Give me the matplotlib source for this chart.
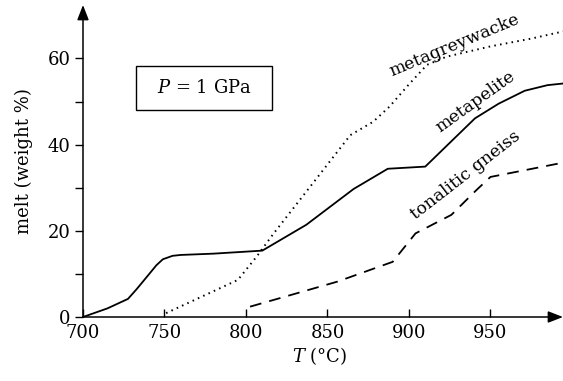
import matplotlib
matplotlib.use('Agg')
import matplotlib.pyplot as plt
from matplotlib.patches import Rectangle

plt.rcParams['font.family'] = ['DejaVu Serif']
plt.rcParams['mathtext.fontset'] = 'dejavuserif'

# melt fraction curves (T in degC, melt in weight %)
pelite_t = [700, 715, 727.6, 733, 740, 745, 749, 755, 760, 780, 810, 837, 866, 887, 910, 940.5, 955, 971, 985, 995]
pelite_m = [0, 2.0, 4.2, 6.5, 9.7, 12.0, 13.4, 14.2, 14.4, 14.7, 15.4, 21.4, 29.7, 34.4, 34.9, 46.1, 49.5, 52.5, 53.8, 54.2]

greywacke_t = [751, 795, 806.5, 817, 843, 864, 878, 888, 900, 911, 923, 950, 975, 995]
greywacke_m = [0.9, 8.6, 14.0, 19.4, 32.0, 42.2, 45.3, 48.8, 54.0, 58.5, 60.4, 62.8, 64.6, 66.3]

gneiss_t = [802.5, 821, 856, 890, 904, 926, 941.5, 950, 993]
gneiss_m = [2.4, 4.4, 8.2, 12.8, 19.4, 23.7, 29.5, 32.5, 35.7]

xticks = [700, 750, 800, 850, 900, 950]
yticks = [0, 20, 40, 60]
yminor = [10, 30, 50]

fs = 13

fig = plt.figure(figsize=(5.63, 3.81), dpi=100)
ax = fig.add_axes([83 / 563, 64 / 381, 480 / 563, 312 / 381])
ax.set_xlim(700, 994.5)
ax.set_ylim(0, 72.4)

ax.plot(pelite_t, pelite_m, color='black', lw=1.3, clip_on=False)
ax.plot(greywacke_t, greywacke_m, color='black', lw=1.4, linestyle=(0, (0.8, 2.2)), clip_on=False)
ax.plot(gneiss_t, gneiss_m, color='black', lw=1.3, linestyle=(0, (6.5, 4.5)), clip_on=False)

for s in ['top', 'right', 'left', 'bottom']:
    ax.spines[s].set_visible(False)

# axes with arrowheads
arrow = dict(arrowstyle='-|>,head_length=0.9,head_width=0.35', color='black', lw=1.1,
             shrinkA=0, shrinkB=0)
ax.annotate('', xy=(1, 0), xytext=(0, 0), xycoords='axes fraction', arrowprops=arrow)
ax.annotate('', xy=(0, 1), xytext=(0, 0), xycoords='axes fraction', arrowprops=arrow)

ax.set_xticks(xticks)
ax.set_yticks(yticks)
ax.set_yticks(yminor, minor=True)
ax.tick_params(axis='x', direction='in', length=6, width=1, labelsize=fs, pad=5)
ax.tick_params(axis='y', which='both', direction='out', length=6, width=1, labelsize=fs, pad=3)

fig.text(24 / 563, 1 - 161 / 381, 'melt (weight %)', rotation=90, fontsize=fs,
         ha='center', va='center')
fig.text(320 / 563, 1 - 356 / 381, r'$T$ (°C)', fontsize=fs, ha='center', va='center')

# pressure box
ax.add_patch(Rectangle((732.5, 48.0), 83.5, 10.2, fill=False, edgecolor='black', lw=1))
ax.text(774.2, 53.1, r'$P$ = 1 GPa', fontsize=fs, ha='center', va='center')

ax.text(928, 63.0, 'metagreywacke', fontsize=12.5, rotation=22.6, ha='center', va='center')
ax.text(941, 50.0, 'metapelite', fontsize=12.5, rotation=35.6, ha='center', va='center')
ax.text(934.5, 32.8, 'tonalitic gneiss', fontsize=12.5, rotation=37.8, ha='center', va='center')

fig.savefig('out.png', dpi=100)
